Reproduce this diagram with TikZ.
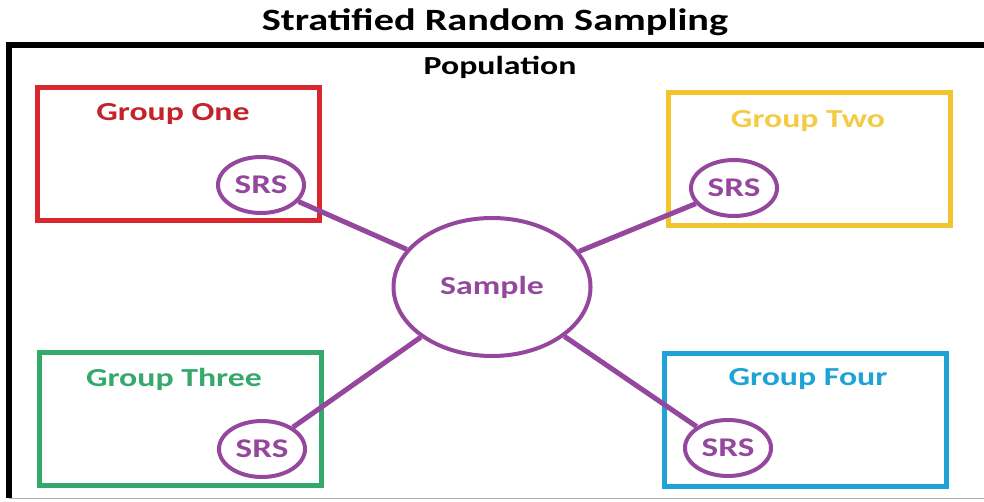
\documentclass[tikz,border=0pt]{standalone}
\usepackage{fontspec}
\setmainfont{Carlito}[FakeStretch=1.3]
\usetikzlibrary{shapes.geometric}

\definecolor{grpred}{HTML}{D8282F}
\definecolor{grpyellow}{HTML}{F2C530}
\definecolor{grpgreen}{HTML}{35A86B}
\definecolor{grpblue}{HTML}{1FA3D6}
\definecolor{srspurple}{HTML}{94479C}

\begin{document}
\begin{tikzpicture}[x=1pt,y=-1pt,
    groupbox/.style={draw, line width=5pt, minimum width=282pt, minimum height=133pt, inner sep=0pt},
    grouplabel/.style={font=\fontsize{26}{30}\selectfont\bfseries},
    srs/.style={ellipse, draw=srspurple, line width=4pt, text=srspurple, inner sep=0pt,
        minimum width=86pt, minimum height=56pt, font=\fontsize{27}{30}\selectfont\bfseries},
    link/.style={srspurple, line width=5pt}]
    \useasboundingbox (0,0) rectangle (984,501);

    % Title and population frame
    \node[font=\fontsize{31}{36}\selectfont\bfseries] (title) at (495,22) {Stratified Random Sampling};
    \draw[line width=6pt] (984,45) -- (9,45) -- (9,498);
    \draw[gray!60, line width=1pt] (9,498) -- (984,498);
    \node[font=\fontsize{26}{30}\selectfont\bfseries] (pop) at (500,67) {Population};

    % Groups
    \node[groupbox, draw=grpred] (g1) at (178.5,153.5) {};
    \node[groupbox, draw=grpyellow] (g2) at (809.5,158.5) {};
    \node[groupbox, draw=grpgreen] (g3) at (180,418.5) {};
    \node[groupbox, draw=grpblue] (g4) at (805.5,420) {};

    \node[grouplabel, text=grpred!90!black] (l1) at (173,114) {Group One};
    \node[grouplabel, text=grpyellow!90!white] (l2) at (808,121) {Group Two};
    \node[grouplabel, text=grpgreen] (l3) at (174,379) {Group Three};
    \node[grouplabel, text=grpblue] (l4) at (808,379) {Group Four};

    % Simple random samples
    \node[srs] (s1) at (261,185) {SRS};
    \node[srs] (s2) at (734,188) {SRS};
    \node[srs] (s3) at (262,449) {SRS};
    \node[srs] (s4) at (728,448) {SRS};

    % Sample
    \node[ellipse, draw=srspurple, line width=4pt, text=srspurple, inner sep=0pt,
        minimum width=197pt, minimum height=138pt, font=\fontsize{26}{30}\selectfont\bfseries]
        (sample) at (492,287) {Sample};

    % Links
    \foreach \s in {s1,s2,s3,s4} \draw[link] (\s) -- (sample);
\end{tikzpicture}
\end{document}
